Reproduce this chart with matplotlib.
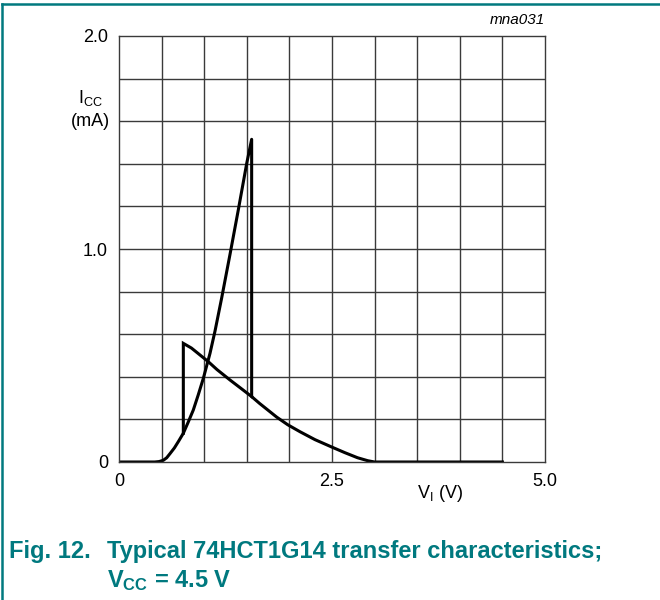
import matplotlib
matplotlib.use('Agg')
import matplotlib.pyplot as plt
from matplotlib.lines import Line2D

plt.rcParams['font.family'] = ['Liberation Sans', 'DejaVu Sans']
plt.rcParams['mathtext.fontset'] = 'custom'
plt.rcParams['mathtext.rm'] = 'Liberation Sans'
plt.rcParams['mathtext.it'] = 'Liberation Sans:italic'
plt.rcParams['mathtext.bf'] = 'Liberation Sans:bold'

TEAL = '#00797f'

# rising branch (input going up), then switch down and decay to zero
up_v = [0.0, 0.42, 0.47, 0.52, 0.56, 0.6, 0.65, 0.7, 0.755, 0.81, 0.872, 0.93, 0.99, 1.068,
        1.127, 1.205, 1.303, 1.40, 1.499, 1.557,
        1.557, 1.65, 1.772, 1.85, 1.98, 2.125, 2.3, 2.51, 2.65, 2.8, 2.92, 3.0, 4.5]
up_i = [0.0, 0.0, 0.002, 0.008, 0.02, 0.04, 0.066, 0.098, 0.135, 0.185, 0.244, 0.315, 0.393, 0.51,
        0.615, 0.77, 0.975, 1.183, 1.402, 1.515,
        0.307, 0.275, 0.236, 0.211, 0.175, 0.142, 0.105, 0.068, 0.044, 0.02, 0.006, 0.0, 0.0]

# falling branch (input going down)
down_v = [0.755, 0.755, 0.85, 1.048, 1.15, 1.303, 1.45, 1.557]
down_i = [0.135, 0.557, 0.535, 0.471, 0.434, 0.385, 0.34, 0.307]

fig = plt.figure(figsize=(6.6, 6.0), dpi=100)
ax = fig.add_axes([119 / 660, 138 / 600, 426 / 660, 426 / 600])

ax.plot(up_v, up_i, color='black', lw=2.2, solid_joinstyle='round')
ax.plot(down_v, down_i, color='black', lw=2.2, solid_joinstyle='miter')

ax.set_xlim(0, 5.0)
ax.set_ylim(0, 2.0)
for k in range(1, 10):
    ax.axvline(k * 0.5, color='#3a3a3a', lw=1.0, zorder=0)
    ax.axhline(k * 0.2, color='#3a3a3a', lw=1.0, zorder=0)
for s in ax.spines.values():
    s.set_color('#3a3a3a')
    s.set_linewidth(1.0)

ax.set_xticks([0, 2.5, 5.0])
ax.set_xticklabels(['0', '2.5', '5.0'])
ax.set_yticks([0, 1.0, 2.0])
ax.set_yticklabels(['0', '1.0', '2.0'])
ax.tick_params(length=0, labelsize=13, pad=8)

fig.text(90 / 660, 1 - 98 / 600, r'$\mathrm{I_{CC}}$', fontsize=13, ha='center', va='center')
fig.text(90 / 660, 1 - 121 / 600, '(mA)', fontsize=13, ha='center', va='center')
fig.text(440 / 660, 1 - 493 / 600, r'$\mathrm{V_{I}}$ (V)', fontsize=13, ha='center', va='center')
fig.text(545 / 660, 1 - 20 / 600, 'mna031', fontsize=11, style='italic', ha='right', va='center')

fig.text(9 / 660, 1 - 558 / 600, 'Fig. 12.', fontsize=17, fontweight='bold', color=TEAL,
         ha='left', va='baseline')
fig.text(107 / 660, 1 - 558 / 600, 'Typical 74HCT1G14 transfer characteristics;', fontsize=17,
         fontweight='bold', color=TEAL, ha='left', va='baseline')
fig.text(107 / 660, 1 - 587 / 600, r'$\mathbf{V_{CC}}$ = 4.5 V', fontsize=17, fontweight='bold',
         color=TEAL, ha='left', va='baseline')

# frame on top and left
fig.add_artist(Line2D([2 / 660, 1], [1 - 4 / 600, 1 - 4 / 600], color=TEAL, lw=1.8))
fig.add_artist(Line2D([2 / 660, 2 / 660], [0, 1 - 4 / 600], color=TEAL, lw=1.8))

fig.savefig('out.png', dpi=100)
